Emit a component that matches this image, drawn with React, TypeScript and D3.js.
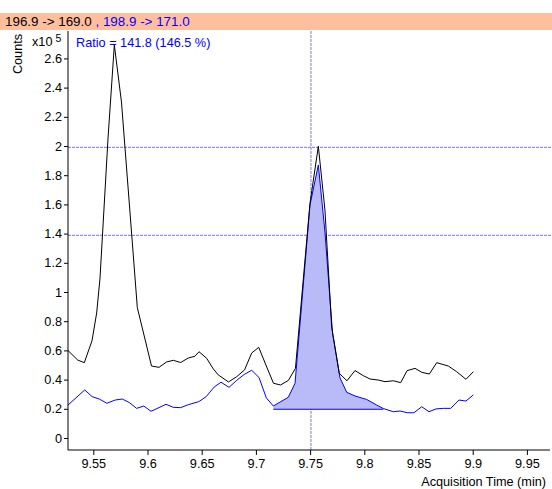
import { useEffect, useRef } from "react";
import * as d3 from "d3";

// quantifier trace (black) and qualifier trace (blue), time in min, counts
const quantTime = [9.5267, 9.5356, 9.5417, 9.5488, 9.5531, 9.5562, 9.5636, 9.5694, 9.576, 9.5906, 9.6037, 9.6106, 9.6177, 9.6238, 9.6306, 9.6376, 9.6438, 9.6475, 9.6546, 9.6607, 9.6653, 9.6747, 9.6823, 9.6895, 9.6961, 9.7026, 9.71, 9.7162, 9.7227, 9.7299, 9.7365, 9.7499, 9.7576, 9.7637, 9.7699, 9.7769, 9.784, 9.7914, 9.7991, 9.8053, 9.8129, 9.8191, 9.8268, 9.8336, 9.8394, 9.8468, 9.853, 9.86, 9.8668, 9.8775, 9.8852, 9.8938, 9.9006];
const quantCounts = [59900, 53400, 51600, 66600, 85600, 109600, 205500, 269200, 230100, 89400, 49300, 48400, 52100, 53200, 51700, 54800, 56000, 59100, 54600, 47300, 43200, 38400, 42000, 46600, 58200, 62100, 48600, 37500, 36300, 39400, 47700, 160800, 199800, 156200, 76000, 44300, 39200, 46200, 42700, 40400, 39700, 38600, 39200, 37900, 46100, 47700, 45000, 43800, 51600, 49300, 45400, 40200, 45400];

const qualTime = [9.5267, 9.5421, 9.549, 9.5555, 9.5625, 9.5702, 9.5767, 9.5832, 9.59, 9.5966, 9.6032, 9.606, 9.6171, 9.6238, 9.6306, 9.6376, 9.6473, 9.6541, 9.6615, 9.6678, 9.6752, 9.6823, 9.6892, 9.6961, 9.7029, 9.7096, 9.7161, 9.7299, 9.7361, 9.7499, 9.7576, 9.7637, 9.7707, 9.7776, 9.7838, 9.7914, 9.8022, 9.8114, 9.8175, 9.8268, 9.8329, 9.8397, 9.8458, 9.853, 9.8597, 9.8661, 9.8729, 9.8797, 9.8874, 9.8938, 9.9006];
const qualCounts = [22600, 32900, 28300, 26700, 23800, 26000, 26700, 24300, 20300, 21900, 18300, 19200, 23100, 21000, 20800, 22800, 24900, 28300, 34900, 38200, 34700, 39500, 43500, 46400, 41400, 27500, 21900, 27900, 37500, 159600, 187000, 141100, 71900, 41100, 31300, 28800, 26400, 22600, 20200, 18000, 18500, 17300, 17300, 21400, 18000, 19900, 20300, 20300, 26000, 25300, 29500];

// integration of qualifier peak
const peakStart = 9.7161;
const peakEnd = 9.8175;
const peakBaseline = 19700;

// cursor
const cursorTime = 9.7508;
const cursorLevels = [199100, 138800];

const yTicks = [0, 0.2, 0.4, 0.6, 0.8, 1, 1.2, 1.4, 1.6, 1.8, 2, 2.2, 2.4, 2.6];
const xTicks = [9.55, 9.6, 9.65, 9.7, 9.75, 9.8, 9.85, 9.9, 9.95];

const W = 552;
const H = 489;
const BLUE = "#0000ff";
const FONT = "Arial, 'Liberation Sans', sans-serif";
const FS = 12.7;

export default function App() {
  const ref = useRef<SVGSVGElement>(null);

  useEffect(() => {
    const svg = d3.select(ref.current);
    svg.selectAll("*").remove();

    const left = 68, right = 550, top = 31, bottom = 450;

    const x = d3.scaleLinear().domain([9.52666, 9.97131]).range([left, right]);
    const y = d3.scaleLinear().domain([-8220, 278770]).range([bottom, top]);

    // header band
    svg.append("rect").attr("x", 0).attr("y", 13).attr("width", W).attr("height", 17).attr("fill", "#ffbf9f");
    const head = svg.append("text").attr("x", 5).attr("y", 26).attr("font-family", FONT).attr("font-size", 13.4);
    head.append("tspan").attr("fill", "#000").text("196.9 -> 169.0");
    head.append("tspan").attr("fill", BLUE).text(" , 198.9 -> 171.0");

    // cursor lines
    const cur = svg
      .append("g")
      .attr("stroke", "#9090ec")
      .attr("stroke-width", 1.2)
      .attr("stroke-dasharray", "3,1");
    cur.append("line").attr("x1", x(cursorTime)).attr("x2", x(cursorTime)).attr("y1", top).attr("y2", bottom);
    cursorLevels.forEach((v) => {
      cur.append("line").attr("x1", left).attr("x2", W).attr("y1", y(v)).attr("y2", y(v));
    });

    // integrated peak fill
    const inPeak = qualTime
      .map((t, i) => [t, qualCounts[i]] as [number, number])
      .filter((d) => d[0] >= peakStart && d[0] <= peakEnd);
    const area = d3
      .area<[number, number]>()
      .x((d) => x(d[0]))
      .y0(y(peakBaseline))
      .y1((d) => y(d[1]));
    svg.append("path").datum(inPeak).attr("d", area).attr("fill", "#b8bbf7").attr("stroke", "none");
    svg
      .append("line")
      .attr("x1", x(peakStart))
      .attr("x2", x(peakEnd))
      .attr("y1", y(peakBaseline))
      .attr("y2", y(peakBaseline))
      .attr("stroke", BLUE)
      .attr("stroke-width", 1.2);

    const line = d3
      .line<[number, number]>()
      .x((d) => x(d[0]))
      .y((d) => y(d[1]));

    svg
      .append("path")
      .datum(qualTime.map((t, i) => [t, qualCounts[i]] as [number, number]))
      .attr("d", line)
      .attr("fill", "none")
      .attr("stroke", BLUE)
      .attr("stroke-width", 1);

    svg
      .append("path")
      .datum(quantTime.map((t, i) => [t, quantCounts[i]] as [number, number]))
      .attr("d", line)
      .attr("fill", "none")
      .attr("stroke", "#000")
      .attr("stroke-width", 1);

    // axes
    const yAxis = svg
      .append("g")
      .attr("transform", `translate(${left},0)`)
      .call(
        d3
          .axisLeft(y)
          .tickValues(yTicks.map((v) => v * 1e5))
          .tickSize(4)
          .tickSizeOuter(0)
          .tickFormat((d) => String(+(+d / 1e5).toFixed(1)))
      );
    yAxis.select(".domain").attr("d", `M0,${top}V${bottom}`).attr("stroke", "#000");
    yAxis.selectAll("text").attr("font-family", FONT).attr("font-size", FS).attr("fill", "#000").attr("x", -6);

    const xAxis = svg
      .append("g")
      .attr("transform", `translate(0,${bottom})`)
      .call(d3.axisBottom(x).tickValues(xTicks).tickSize(5).tickSizeOuter(0).tickFormat((d) => String(+d)));
    xAxis.select(".domain").attr("d", `M${left},0H${right}`).attr("stroke", "#000");
    xAxis.selectAll("text").attr("font-family", FONT).attr("font-size", FS).attr("fill", "#000").attr("y", 9);

    // labels
    svg
      .append("text")
      .attr("transform", "translate(22,54) rotate(-90)")
      .attr("text-anchor", "middle")
      .attr("font-family", FONT)
      .attr("font-size", FS)
      .text("Counts");
    const sci = svg.append("text").attr("x", 32).attr("y", 46).attr("font-family", FONT).attr("font-size", FS);
    sci.append("tspan").text("x10");
    sci.append("tspan").attr("dx", 3).attr("dy", -4).attr("font-size", 10.5).text("5");

    svg
      .append("text")
      .attr("x", 76)
      .attr("y", 47)
      .attr("font-family", FONT)
      .attr("font-size", FS)
      .attr("fill", BLUE)
      .text("Ratio = 141.8 (146.5 %)");

    svg
      .append("text")
      .attr("x", 546)
      .attr("y", 486)
      .attr("text-anchor", "end")
      .attr("font-family", FONT)
      .attr("font-size", FS)
      .text("Acquisition Time (min)");
  }, []);

  return (
    <svg
      ref={ref}
      width={W}
      height={H}
      style={{ position: "absolute", left: 0, top: 0, background: "#fff" }}
    ></svg>
  );
}
